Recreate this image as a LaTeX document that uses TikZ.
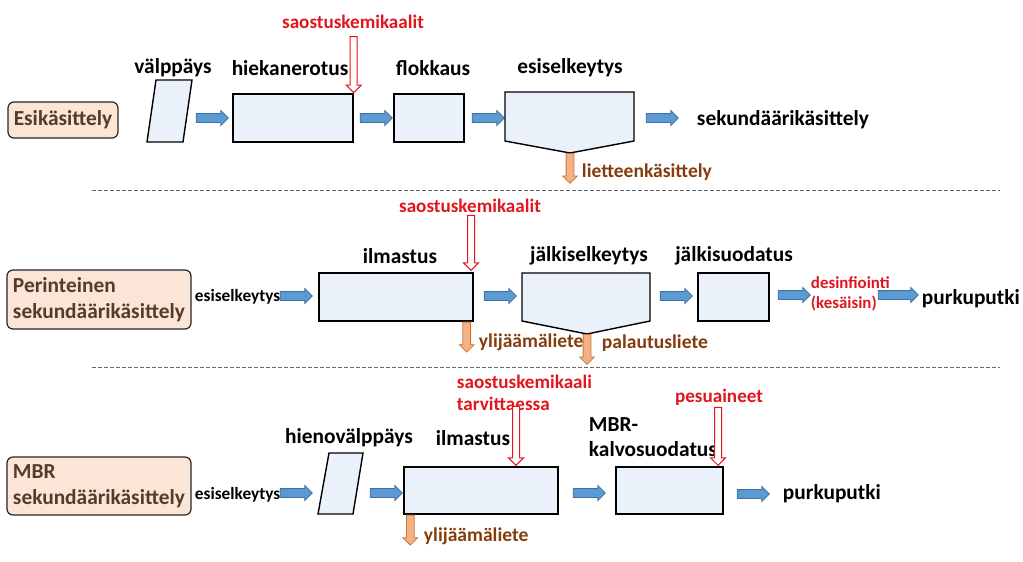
\documentclass[tikz,border=0pt]{standalone}
\usepackage{fontspec}
\setmainfont{Carlito}
\usepackage{tikz}
\usetikzlibrary{positioning,arrows.meta,calc,shapes.arrows}
\usepackage{xcolor}

\definecolor{stagefill}{HTML}{EBF1FA}
\definecolor{flowfill}{HTML}{5B9BD5}
\definecolor{flowline}{HTML}{41719C}
\definecolor{drainfill}{HTML}{F4B183}
\definecolor{drainline}{HTML}{C8763A}
\definecolor{chemred}{HTML}{E0161E}
\definecolor{sludge}{HTML}{843C0C}
\definecolor{phasefill}{HTML}{FBE5D6}
\definecolor{phasetext}{HTML}{553B2A}

\newdimen\px \px=0.025cm

\tikzset{
  stage/.style={draw=black, fill=stagefill, line width=1.4\px, inner sep=0pt},
  steplabel/.style={font=\bfseries\fontsize{15.2}{17}\selectfont},
  phase/.style={draw=black!85, fill=phasefill, rounded corners=6\px, line width=1.2\px,
    text=phasetext, align=left, font=\bfseries\fontsize{15.2}{18.5}\selectfont},
  chem/.style={text=chemred, align=left, font=\bfseries\fontsize{13.6}{13.5}\selectfont},
  sludgelabel/.style={text=sludge, font=\bfseries\fontsize{13.9}{15}\selectfont},
  smalllabel/.style={font=\bfseries\fontsize{12.3}{14}\selectfont},
  flow/.style={single arrow, draw=flowline, fill=flowfill, line width=0.8\px,
    inner xsep=0pt, inner ysep=4\px, single arrow head extend=3\px,
    minimum height=32\px},
  dose/.style={single arrow, draw=chemred, fill=white, line width=1\px,
    shape border rotate=270, inner xsep=3\px, inner ysep=0pt,
    single arrow head extend=4\px, anchor=tip},
  drain/.style={single arrow, draw=drainline, fill=drainfill, line width=0.8\px,
    shape border rotate=270, inner xsep=3.5\px, inner ysep=0pt,
    single arrow head extend=3.5\px, minimum height=30\px, anchor=tail},
}

\begin{document}
\begin{tikzpicture}[x=0.025cm, y=-0.025cm]
  \useasboundingbox (0,0) rectangle (1023,561);

  % --- Esikasittely
  \node[phase, minimum width=110\px, minimum height=36\px, align=center] (ph1) at (63,120) {Esikäsittely};
  \draw[stage] (156,80) -- (192,80) -- (183,142) -- (147,142) -- cycle;
  \coordinate (valp) at (170,111);
  \node[steplabel] (valpL) at (173,68) {välppäys};
  \node[flow] (f11) at (210,118) {};
  \node[stage, minimum width=120\px, minimum height=48\px] (hiek) at (293,118) {};
  \node[steplabel] (hiekL) at (290,68) {hiekanerotus};
  \node[chem] (chem1) at (353,22) {saostuskemikaalit};
  \node[dose, minimum height=56\px] (d1) at (hiek.north east) {};
  \node[flow] (f12) at (374,118) {};
  \node[stage, minimum width=70\px, minimum height=48\px] (flok) at (429,118) {};
  \node[steplabel] (flokL) at (433,68) {flokkaus};
  \node[flow] (f13) at (486,118) {};
  \draw[stage] (505,92) -- (634,92) -- (634,141) -- (570,153) -- (505,141) -- cycle;
  \coordinate (esiV) at (570,153);
  \node[steplabel] (esiL) at (570,68) {esiselkeytys};
  \node[flow] (f14) at (660,118) {};
  \node[steplabel, anchor=west] (sek) at (692,120) {sekundäärikäsittely};
  \node[drain] (dr1) at (esiV) {};
  \node[sludgelabel, anchor=west] (liet) at (577,172) {lietteenkäsittely};

  \draw[black!60, dashed, line width=0.8\px, dash pattern=on 4\px off 2\px] (92,190) -- (1000,190);
  \draw[black!60, dashed, line width=0.8\px, dash pattern=on 4\px off 2\px] (92,367) -- (1000,367);

  % --- Perinteinen sekundaarikasittely
  \node[phase, minimum width=184\px, minimum height=59\px, text width=172\px] (ph2) at (99,299.5) {Perinteinen\\sekundäärikäsittely};
  \node[smalllabel, anchor=west] (in2) at (190,297) {esiselkeytys};
  \node[flow] (f21) at (294,296) {};
  \node[stage, minimum width=154\px, minimum height=48\px] (ilm2) at (396,297) {};
  \node[steplabel] (ilm2L) at (400,256) {ilmastus};
  \node[chem] (chem2) at (470,206) {saostuskemikaalit};
  \node[dose, minimum height=55\px] (d2) at (471,271) {};
  \node[drain] (dr2) at ($(ilm2.south east)+(-7,0)$) {};
  \node[sludgelabel, anchor=west] (yli2) at (474,342) {ylijäämäliete};
  \node[flow] (f22) at (498,296) {};
  \draw[stage] (522,273) -- (650,273) -- (650,321) -- (587,334) -- (522,321) -- cycle;
  \coordinate (jalV) at (587,334);
  \node[steplabel] (jalL) at (589,256) {jälkiselkeytys};
  \node[drain] (dr3) at (jalV) {};
  \node[sludgelabel, anchor=west] (pal) at (597,343) {palautusliete};
  \node[flow] (f23) at (674,296) {};
  \node[stage, minimum width=71\px, minimum height=48\px] (suod) at (733.5,297) {};
  \node[steplabel] (suodL) at (734,256) {jälkisuodatus};
  \node[flow] (f24) at (792,295) {};
  \node[chem, anchor=west, font=\bfseries\fontsize{12}{14.5}\selectfont] (desi) at (806,294) {desinfiointi\\(kesäisin)};
  \node[flow, minimum height=40\px] (f25) at (896,295) {};
  \node[steplabel, anchor=west] (purk2) at (917,299) {purkuputki};

  % --- MBR sekundaarikasittely
  \node[phase, minimum width=184\px, minimum height=58\px, text width=172\px] (ph3) at (99,486) {MBR\\sekundäärikäsittely};
  \node[smalllabel, anchor=west] (in3) at (190,495) {esiselkeytys};
  \node[flow] (f31) at (294,493) {};
  \draw[stage] (329,453) -- (363,453) -- (353,514) -- (318,514) -- cycle;
  \coordinate (hien) at (341,483);
  \node[steplabel] (hienL) at (349,438) {hienovälppäys};
  \node[flow] (f32) at (384,493) {};
  \node[stage, minimum width=154\px, minimum height=47\px] (ilm3) at (481,490.5) {};
  \node[steplabel] (ilm3L) at (473,438) {ilmastus};
  \node[chem, anchor=north west, font=\bfseries\fontsize{13.6}{15.6}\selectfont] (chem3) at (452,370) {saostuskemikaali\\tarvittaessa};
  \node[dose, minimum height=59\px] (d3) at (516,466) {};
  \node[drain] (dr4) at ($(ilm3.south west)+(7,0)$) {};
  \node[sludgelabel, anchor=west] (yli3) at (419,536) {ylijäämäliete};
  \node[flow] (f33) at (587,493) {};
  \node[stage, minimum width=107\px, minimum height=47\px] (mbr) at (669.5,490.5) {};
  \node[steplabel, align=left, anchor=west, font=\bfseries\fontsize{15.2}{17.8}\selectfont] (mbrL) at (584,437) {MBR-\\kalvosuodatus};
  \node[chem] (chem4) at (719,397) {pesuaineet};
  \node[dose, minimum height=58\px] (d4) at (718,466) {};
  \node[flow] (f34) at (751,494) {};
  \node[steplabel, anchor=west] (purk3) at (778,494) {purkuputki};
\end{tikzpicture}
\end{document}
